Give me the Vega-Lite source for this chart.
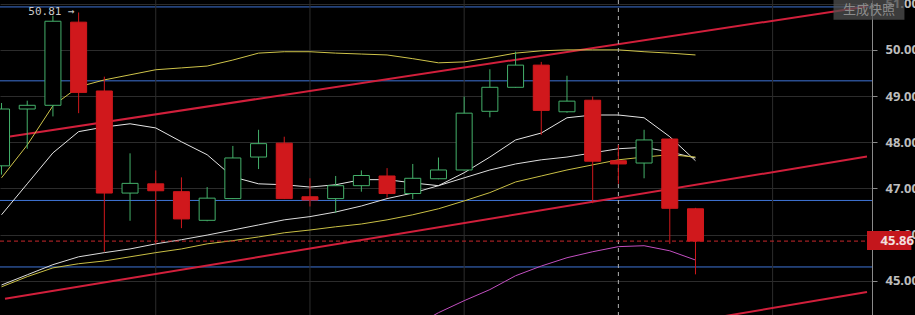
{
  "$schema": "https://vega.github.io/schema/vega-lite/v6.json",
  "width": 872,
  "height": 315,
  "autosize": {"type": "none"},
  "padding": {"left": 0, "top": 0, "right": 43, "bottom": 0},
  "background": "#000000",
  "config": {
    "view": {"stroke": null},
    "axisY": {"grid": true, "gridColor": "#2c2c2c", "gridWidth": 1,
      "domain": true, "domainColor": "#8a8a8a", "tickColor": "#8a8a8a", "tickSize": 5,
      "labelPadding": 8, "labelColor": "#bdbdbd", "labelFontSize": 13, "labelFont": "Noto Sans", "labelFontWeight": "bold"}
  },
  "datasets": {
    "candles": [
      {"t": -1, "o": 47.49, "c": 48.72, "h": 48.85, "l": 47.30},
      {"t": 0, "o": 48.72, "c": 48.80, "h": 48.90, "l": 47.86},
      {"t": 1, "o": 48.80, "c": 50.62, "h": 50.74, "l": 48.56},
      {"t": 2, "o": 50.60, "c": 49.08, "h": 50.81, "l": 48.63},
      {"t": 3, "o": 49.11, "c": 46.90, "h": 49.42, "l": 45.63},
      {"t": 4, "o": 46.90, "c": 47.11, "h": 47.76, "l": 46.30},
      {"t": 5, "o": 47.10, "c": 46.95, "h": 47.39, "l": 45.80},
      {"t": 6, "o": 46.93, "c": 46.34, "h": 47.24, "l": 46.14},
      {"t": 7, "o": 46.31, "c": 46.79, "h": 47.03, "l": 46.29},
      {"t": 8, "o": 46.78, "c": 47.66, "h": 47.92, "l": 46.77},
      {"t": 9, "o": 47.68, "c": 47.97, "h": 48.27, "l": 47.42},
      {"t": 10, "o": 47.98, "c": 46.78, "h": 48.12, "l": 46.77},
      {"t": 11, "o": 46.82, "c": 46.75, "h": 47.22, "l": 46.61},
      {"t": 12, "o": 46.78, "c": 47.06, "h": 47.27, "l": 46.47},
      {"t": 13, "o": 47.06, "c": 47.28, "h": 47.39, "l": 46.93},
      {"t": 14, "o": 47.27, "c": 46.89, "h": 47.44, "l": 46.80},
      {"t": 15, "o": 46.89, "c": 47.22, "h": 47.53, "l": 46.77},
      {"t": 16, "o": 47.21, "c": 47.40, "h": 47.67, "l": 47.20},
      {"t": 17, "o": 47.40, "c": 48.63, "h": 48.99, "l": 47.39},
      {"t": 18, "o": 48.67, "c": 49.19, "h": 49.58, "l": 48.54},
      {"t": 19, "o": 49.19, "c": 49.67, "h": 49.96, "l": 49.18},
      {"t": 20, "o": 49.67, "c": 48.69, "h": 49.74, "l": 48.16},
      {"t": 21, "o": 48.66, "c": 48.89, "h": 49.44, "l": 48.64},
      {"t": 22, "o": 48.91, "c": 47.59, "h": 48.99, "l": 46.68},
      {"t": 23, "o": 47.60, "c": 47.53, "h": 47.94, "l": 47.10},
      {"t": 24, "o": 47.55, "c": 48.05, "h": 48.27, "l": 47.22},
      {"t": 25, "o": 48.07, "c": 46.57, "h": 48.08, "l": 45.80},
      {"t": 26, "o": 46.56, "c": 45.86, "h": 46.58, "l": 45.14}
    ],
    "ma": [
      {"s": "y1", "t": -1, "v": 47.23}, {"s": "y1", "t": 0, "v": 47.94}, {"s": "y1", "t": 1, "v": 48.79}, {"s": "y1", "t": 2, "v": 49.20},
      {"s": "y1", "t": 3, "v": 49.35}, {"s": "y1", "t": 4, "v": 49.46}, {"s": "y1", "t": 5, "v": 49.57}, {"s": "y1", "t": 6, "v": 49.61},
      {"s": "y1", "t": 7, "v": 49.65}, {"s": "y1", "t": 8, "v": 49.78}, {"s": "y1", "t": 9, "v": 49.93}, {"s": "y1", "t": 10, "v": 49.96},
      {"s": "y1", "t": 11, "v": 49.96}, {"s": "y1", "t": 12, "v": 49.93}, {"s": "y1", "t": 13, "v": 49.91}, {"s": "y1", "t": 14, "v": 49.89},
      {"s": "y1", "t": 15, "v": 49.81}, {"s": "y1", "t": 16, "v": 49.72}, {"s": "y1", "t": 17, "v": 49.74}, {"s": "y1", "t": 18, "v": 49.83},
      {"s": "y1", "t": 19, "v": 49.93}, {"s": "y1", "t": 20, "v": 49.98}, {"s": "y1", "t": 21, "v": 50.00}, {"s": "y1", "t": 22, "v": 50.00},
      {"s": "y1", "t": 23, "v": 50.00}, {"s": "y1", "t": 24, "v": 49.96}, {"s": "y1", "t": 25, "v": 49.93}, {"s": "y1", "t": 26, "v": 49.89},

      {"s": "w1", "t": -1, "v": 46.43}, {"s": "w1", "t": 0, "v": 47.10}, {"s": "w1", "t": 1, "v": 47.77}, {"s": "w1", "t": 2, "v": 48.23},
      {"s": "w1", "t": 3, "v": 48.33}, {"s": "w1", "t": 4, "v": 48.40}, {"s": "w1", "t": 5, "v": 48.31}, {"s": "w1", "t": 6, "v": 48.01},
      {"s": "w1", "t": 7, "v": 47.73}, {"s": "w1", "t": 8, "v": 47.25}, {"s": "w1", "t": 9, "v": 47.10}, {"s": "w1", "t": 10, "v": 47.08},
      {"s": "w1", "t": 11, "v": 47.03}, {"s": "w1", "t": 12, "v": 47.08}, {"s": "w1", "t": 13, "v": 47.19}, {"s": "w1", "t": 14, "v": 47.19},
      {"s": "w1", "t": 15, "v": 47.12}, {"s": "w1", "t": 16, "v": 47.06}, {"s": "w1", "t": 17, "v": 47.34}, {"s": "w1", "t": 18, "v": 47.68},
      {"s": "w1", "t": 19, "v": 48.05}, {"s": "w1", "t": 20, "v": 48.20}, {"s": "w1", "t": 21, "v": 48.53}, {"s": "w1", "t": 22, "v": 48.59},
      {"s": "w1", "t": 23, "v": 48.59}, {"s": "w1", "t": 24, "v": 48.53}, {"s": "w1", "t": 25, "v": 48.12}, {"s": "w1", "t": 26, "v": 47.60},

      {"s": "w2", "t": -1, "v": 44.91}, {"s": "w2", "t": 0, "v": 45.13}, {"s": "w2", "t": 1, "v": 45.35}, {"s": "w2", "t": 2, "v": 45.52},
      {"s": "w2", "t": 3, "v": 45.61}, {"s": "w2", "t": 4, "v": 45.69}, {"s": "w2", "t": 5, "v": 45.80}, {"s": "w2", "t": 6, "v": 45.89},
      {"s": "w2", "t": 7, "v": 45.99}, {"s": "w2", "t": 8, "v": 46.10}, {"s": "w2", "t": 9, "v": 46.21}, {"s": "w2", "t": 10, "v": 46.32},
      {"s": "w2", "t": 11, "v": 46.39}, {"s": "w2", "t": 12, "v": 46.49}, {"s": "w2", "t": 13, "v": 46.62}, {"s": "w2", "t": 14, "v": 46.78},
      {"s": "w2", "t": 15, "v": 46.90}, {"s": "w2", "t": 16, "v": 47.06}, {"s": "w2", "t": 17, "v": 47.23}, {"s": "w2", "t": 18, "v": 47.40},
      {"s": "w2", "t": 19, "v": 47.53}, {"s": "w2", "t": 20, "v": 47.62}, {"s": "w2", "t": 21, "v": 47.68}, {"s": "w2", "t": 22, "v": 47.77},
      {"s": "w2", "t": 23, "v": 47.86}, {"s": "w2", "t": 24, "v": 47.89}, {"s": "w2", "t": 25, "v": 47.79}, {"s": "w2", "t": 26, "v": 47.66},

      {"s": "y2", "t": -1, "v": 44.87}, {"s": "y2", "t": 0, "v": 45.09}, {"s": "y2", "t": 1, "v": 45.28}, {"s": "y2", "t": 2, "v": 45.37},
      {"s": "y2", "t": 3, "v": 45.43}, {"s": "y2", "t": 4, "v": 45.52}, {"s": "y2", "t": 5, "v": 45.61}, {"s": "y2", "t": 6, "v": 45.69},
      {"s": "y2", "t": 7, "v": 45.80}, {"s": "y2", "t": 8, "v": 45.87}, {"s": "y2", "t": 9, "v": 45.95}, {"s": "y2", "t": 10, "v": 46.04},
      {"s": "y2", "t": 11, "v": 46.10}, {"s": "y2", "t": 12, "v": 46.17}, {"s": "y2", "t": 13, "v": 46.23}, {"s": "y2", "t": 14, "v": 46.32},
      {"s": "y2", "t": 15, "v": 46.43}, {"s": "y2", "t": 16, "v": 46.56}, {"s": "y2", "t": 17, "v": 46.73}, {"s": "y2", "t": 18, "v": 46.91},
      {"s": "y2", "t": 19, "v": 47.14}, {"s": "y2", "t": 20, "v": 47.27}, {"s": "y2", "t": 21, "v": 47.40}, {"s": "y2", "t": 22, "v": 47.51},
      {"s": "y2", "t": 23, "v": 47.62}, {"s": "y2", "t": 24, "v": 47.68}, {"s": "y2", "t": 25, "v": 47.73}, {"s": "y2", "t": 26, "v": 47.68},

      {"s": "m", "t": 14, "v": 43.70}, {"s": "m", "t": 15, "v": 44.00}, {"s": "m", "t": 16, "v": 44.31}, {"s": "m", "t": 17, "v": 44.57}, {"s": "m", "t": 18, "v": 44.81},
      {"s": "m", "t": 19, "v": 45.11}, {"s": "m", "t": 20, "v": 45.32}, {"s": "m", "t": 21, "v": 45.50}, {"s": "m", "t": 22, "v": 45.63},
      {"s": "m", "t": 23, "v": 45.74}, {"s": "m", "t": 24, "v": 45.76}, {"s": "m", "t": 25, "v": 45.65}, {"s": "m", "t": 26, "v": 45.45}
    ],
    "trends": [
      {"s": "A", "t": -0.865, "v": 48.11}, {"s": "A", "t": 32.673, "v": 50.94},
      {"s": "B", "t": -0.865, "v": 44.61}, {"s": "B", "t": 32.673, "v": 47.69},
      {"s": "C", "t": 22.21, "v": 43.77}, {"s": "C", "t": 32.673, "v": 44.76}
    ],
    "levels": [{"v": 50.93}, {"v": 49.33}, {"v": 46.74}, {"v": 45.30}],
    "vgrid": [{"t": 5}, {"t": 11}, {"t": 17}, {"t": 29}]
  },
  "layer": [
    {
      "data": {"name": "levels"},
      "mark": {"type": "rule", "color": "#3f74d6", "strokeWidth": 1},
      "encoding": {
        "y": {"field": "v", "type": "quantitative", "title": null,
          "scale": {"domain": [44.26, 51.08], "nice": false, "zero": false},
          "axis": {"orient": "right", "values": [45, 46, 47, 48, 49, 50, 51], "format": ".2f", "title": null}}
      }
    },
    {
      "data": {"name": "vgrid"},
      "mark": {"type": "rule", "color": "#2c2c2c", "strokeWidth": 1},
      "encoding": {
        "x": {"field": "t", "type": "quantitative", "scale": {"domain": [-0.865, 32.673], "nice": false, "zero": false}, "axis": null}
      }
    },
    {
      "data": {"name": "trends"},
      "mark": {"type": "line", "color": "#d11f3b", "strokeWidth": 2, "clip": true},
      "encoding": {
        "x": {"field": "t", "type": "quantitative", "scale": {"domain": [-0.865, 32.673], "nice": false, "zero": false}, "axis": null},
        "y": {"field": "v", "type": "quantitative", "title": null, "scale": {"domain": [44.26, 51.08], "nice": false, "zero": false}, "axis": {"orient": "right", "values": [45, 46, 47, 48, 49, 50, 51], "format": ".2f", "title": null}},
        "detail": {"field": "s"}
      }
    },
    {
      "data": {"name": "ma"},
      "mark": {"type": "line", "strokeWidth": 1, "clip": true},
      "encoding": {
        "x": {"field": "t", "type": "quantitative", "scale": {"domain": [-0.865, 32.673], "nice": false, "zero": false}, "axis": null},
        "y": {"field": "v", "type": "quantitative", "title": null, "scale": {"domain": [44.26, 51.08], "nice": false, "zero": false}, "axis": {"orient": "right", "values": [45, 46, 47, 48, 49, 50, 51], "format": ".2f", "title": null}},
        "color": {"field": "s", "type": "nominal", "legend": null,
          "scale": {"domain": ["y1", "w1", "w2", "y2", "m"], "range": ["#cfc44a", "#e6e6e6", "#dcdcdc", "#c9bf45", "#c24fc0"]}}
      }
    },
    {
      "data": {"values": [{"t": 23}]},
      "mark": {"type": "rule", "color": "#b0b0b0", "strokeWidth": 1, "strokeDash": [4, 4]},
      "encoding": {
        "x": {"field": "t", "type": "quantitative", "scale": {"domain": [-0.865, 32.673], "nice": false, "zero": false}, "axis": null}
      }
    },
    {
      "data": {"values": [{"v": 45.86}]},
      "mark": {"type": "rule", "color": "#c8282c", "strokeWidth": 1, "strokeDash": [4, 3]},
      "encoding": {
        "y": {"field": "v", "type": "quantitative", "title": null, "scale": {"domain": [44.26, 51.08], "nice": false, "zero": false}, "axis": {"orient": "right", "values": [45, 46, 47, 48, 49, 50, 51], "format": ".2f", "title": null}}
      }
    },
    {
      "data": {"name": "candles"},
      "mark": {"type": "rule", "strokeWidth": 1, "clip": true},
      "encoding": {
        "x": {"field": "t", "type": "quantitative", "scale": {"domain": [-0.865, 32.673], "nice": false, "zero": false}, "axis": null},
        "y": {"field": "l", "type": "quantitative", "title": null, "scale": {"domain": [44.26, 51.08], "nice": false, "zero": false}, "axis": {"orient": "right", "values": [45, 46, 47, 48, 49, 50, 51], "format": ".2f", "title": null}},
        "y2": {"field": "h"},
        "color": {"condition": {"test": "datum.c > datum.o", "value": "#44b06a"}, "value": "#d0181c"}
      }
    },
    {
      "data": {"name": "candles"},
      "mark": {"type": "bar", "size": 16, "strokeWidth": 1, "clip": true},
      "encoding": {
        "x": {"field": "t", "type": "quantitative", "scale": {"domain": [-0.865, 32.673], "nice": false, "zero": false}, "axis": null},
        "y": {"field": "o", "type": "quantitative", "title": null, "scale": {"domain": [44.26, 51.08], "nice": false, "zero": false}, "axis": {"orient": "right", "values": [45, 46, 47, 48, 49, 50, 51], "format": ".2f", "title": null}},
        "y2": {"field": "c"},
        "fill": {"condition": {"test": "datum.c > datum.o", "value": "#000000"}, "value": "#d0181c"},
        "stroke": {"condition": {"test": "datum.c > datum.o", "value": "#44b06a"}, "value": "#d0181c"}
      }
    },
    {
      "data": {"values": [{"t": 2, "v": 50.81, "label": "50.81 →"}]},
      "mark": {"type": "text", "align": "right", "baseline": "middle", "dx": -4, "font": "DejaVu Sans Mono", "fontSize": 11, "color": "#c8c8c8"},
      "encoding": {
        "x": {"field": "t", "type": "quantitative", "scale": {"domain": [-0.865, 32.673], "nice": false, "zero": false}, "axis": null},
        "y": {"field": "v", "type": "quantitative", "title": null, "scale": {"domain": [44.26, 51.08], "nice": false, "zero": false}, "axis": {"orient": "right", "values": [45, 46, 47, 48, 49, 50, 51], "format": ".2f", "title": null}},
        "text": {"field": "label"}
      }
    },
    {
      "data": {"values": [{"t1": 32.673, "t2": 34.4, "v1": 46.08, "v2": 45.67}]},
      "mark": {"type": "rect", "color": "#c4161c"},
      "encoding": {
        "x": {"field": "t1", "type": "quantitative", "scale": {"domain": [-0.865, 32.673], "nice": false, "zero": false}, "axis": null},
        "x2": {"field": "t2"},
        "y": {"field": "v1", "type": "quantitative", "title": null, "scale": {"domain": [44.26, 51.08], "nice": false, "zero": false}, "axis": {"orient": "right", "values": [45, 46, 47, 48, 49, 50, 51], "format": ".2f", "title": null}},
        "y2": {"field": "v2"}
      }
    },
    {
      "data": {"values": [{"t": 33.2, "v": 45.86, "label": "45.86"}]},
      "mark": {"type": "text", "align": "left", "baseline": "middle", "font": "Noto Sans", "fontWeight": "bold", "fontSize": 13, "color": "#f2e0e0"},
      "encoding": {
        "x": {"field": "t", "type": "quantitative", "scale": {"domain": [-0.865, 32.673], "nice": false, "zero": false}, "axis": null},
        "y": {"field": "v", "type": "quantitative", "title": null, "scale": {"domain": [44.26, 51.08], "nice": false, "zero": false}, "axis": {"orient": "right", "values": [45, 46, 47, 48, 49, 50, 51], "format": ".2f", "title": null}},
        "text": {"field": "label"}
      }
    },
    {
      "data": {"values": [{"t1": 31.37, "t2": 34.13, "v1": 51.08, "v2": 50.65}]},
      "mark": {"type": "rect", "color": "#505050", "opacity": 0.75},
      "encoding": {
        "x": {"field": "t1", "type": "quantitative", "scale": {"domain": [-0.865, 32.673], "nice": false, "zero": false}, "axis": null},
        "x2": {"field": "t2"},
        "y": {"field": "v1", "type": "quantitative", "title": null, "scale": {"domain": [44.26, 51.08], "nice": false, "zero": false}, "axis": {"orient": "right", "values": [45, 46, 47, 48, 49, 50, 51], "format": ".2f", "title": null}},
        "y2": {"field": "v2"}
      }
    },
    {
      "data": {"values": [{"t": 32.75, "v": 50.87, "label": "生成快照"}]},
      "mark": {"type": "text", "align": "center", "baseline": "middle", "font": "Noto Sans CJK SC", "fontSize": 13, "color": "#8c8c8c"},
      "encoding": {
        "x": {"field": "t", "type": "quantitative", "scale": {"domain": [-0.865, 32.673], "nice": false, "zero": false}, "axis": null},
        "y": {"field": "v", "type": "quantitative", "title": null, "scale": {"domain": [44.26, 51.08], "nice": false, "zero": false}, "axis": {"orient": "right", "values": [45, 46, 47, 48, 49, 50, 51], "format": ".2f", "title": null}},
        "text": {"field": "label"}
      }
    }
  ]
}
